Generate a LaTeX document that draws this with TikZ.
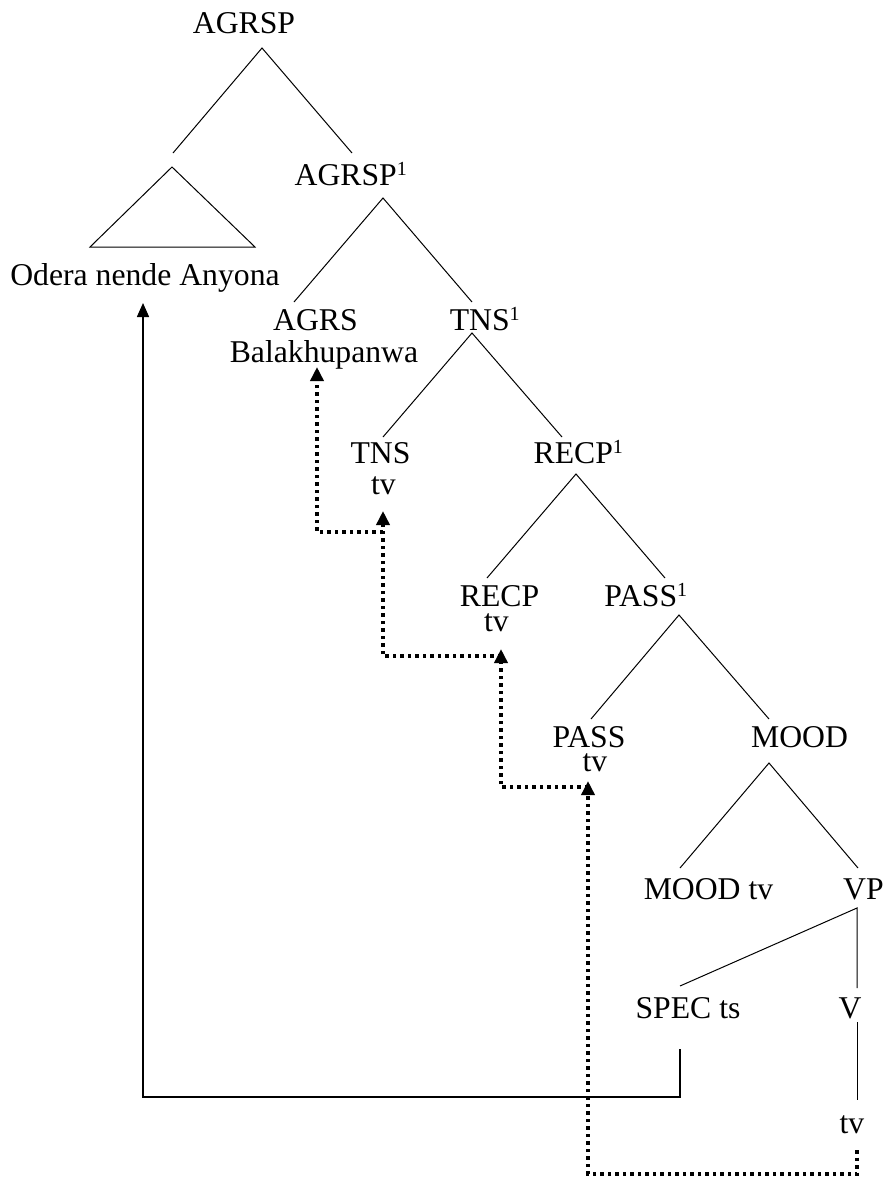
\documentclass[tikz,border=0pt]{standalone}
\usepackage{fontspec}
\setmainfont{Liberation Serif}
\usetikzlibrary{arrows.meta}

\newcommand{\barone}{\textsuperscript{\fontsize{20}{20}\selectfont 1}}

\tikzset{
  lbl/.style={anchor=base, inner sep=0pt},
  branch/.style={line width=1pt},
  trace/.style={line width=3.6pt, dash pattern=on 3.5pt off 4pt, -{Triangle[length=14pt,width=13pt]}},
  movearrow/.style={line width=1.6pt, -{Triangle[length=14pt,width=12pt]}}
}

\begin{document}
\begin{tikzpicture}[x=1pt,y=-1pt,font=\fontsize{31.7}{36}\selectfont]
\useasboundingbox (0,0) rectangle (889,1178);

% labels
\node[lbl] (agrsp)  at (244,33)   {AGRSP};
\node[lbl] (odera)  at (145,285)  {Odera nende Anyona};
\node[lbl] (agrspb) at (351,185)  {AGRSP\barone};
\node[lbl] (agrs)   at (315.5,330) {AGRS};
\node[lbl] (bala)   at (324,362)  {Balakhupanwa};
\node[lbl] (tnsb)   at (485,330)  {TNS\barone};
\node[lbl] (tns)    at (380.5,463) {TNS};
\node[lbl] (tnstv)  at (383.5,494) {tv};
\node[lbl] (recpb)  at (578.5,463) {RECP\barone};
\node[lbl] (recp)   at (499.5,606) {RECP};
\node[lbl] (recptv) at (496.5,631) {tv};
\node[lbl] (passb)  at (646,606)  {PASS\barone};
\node[lbl] (pass)   at (589,747)  {PASS};
\node[lbl] (passtv) at (595,771)  {tv};
\node[lbl] (mood)   at (799.5,747) {MOOD};
\node[lbl] (moodtv) at (708.5,899) {MOOD tv};
\node[lbl] (vp)     at (863.5,899) {VP};
\node[lbl] (spec)   at (688,1018) {SPEC ts};
\node[lbl] (v)      at (850,1018) {V};
\node[lbl] (vtv)    at (852,1133) {tv};

% branching points
\coordinate (t0) at (262,48);
\coordinate (t1) at (383,198);
\coordinate (t2) at (472,333);
\coordinate (t3) at (576,474);
\coordinate (t4) at (679,615);
\coordinate (t5) at (769,763);
\coordinate (t6) at (857,908);

% tree
\draw[branch] (173,153) -- (t0) -- (352,153);
\draw[branch] (90,247) -- (172,167) -- (255,247) -- cycle;
\draw[branch] (294,302) -- (t1) -- (472,302);
\draw[branch] (383,437) -- (t2) -- (562,437);
\draw[branch] (487,578) -- (t3) -- (665,578);
\draw[branch] (591,719) -- (t4) -- (769,719);
\draw[branch] (680,868) -- (t5) -- (858,868);
\draw[branch] (680,986) -- (t6) -- (857,988);
\draw[branch] (857,1022) -- (857,1100);

% movement
\draw[movearrow] (680,1049) -- (680,1097) -- (143,1097) -- (143,303);
\draw[trace] (857,1150) -- (857,1174) -- (588,1174) -- (588,781);
\draw[trace] (588,787) -- (501,787) -- (501,649);
\draw[trace] (501,656) -- (383,656) -- (383,511);
\draw[trace] (383,532) -- (317,532) -- (317,367);
\end{tikzpicture}
\end{document}
